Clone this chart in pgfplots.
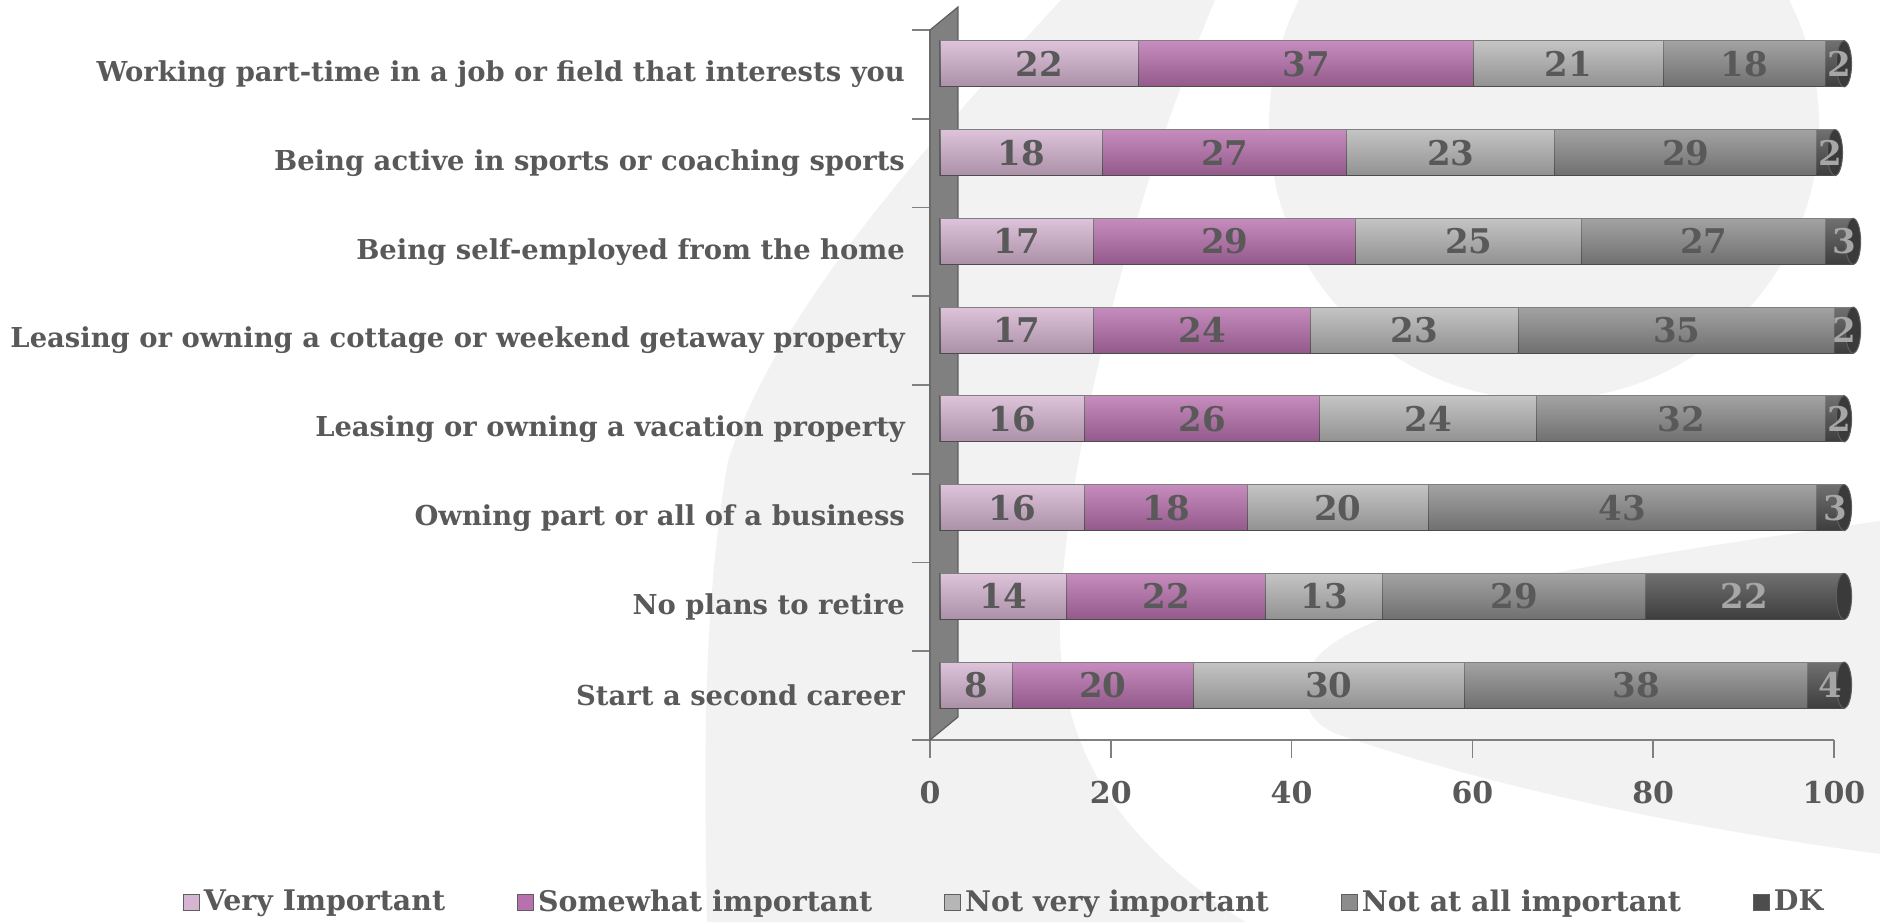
\documentclass[border=0pt]{standalone}
\usepackage{fontspec}
\setmainfont{DejaVu Serif}
\usepackage{pgfplots}
\pgfplotsset{compat=1.18}

\definecolor{txt}{HTML}{595959}
\definecolor{bg}{HTML}{F2F2F2}
\definecolor{axgray}{HTML}{808080}
\definecolor{edge}{HTML}{5F5F5F}
\definecolor{wall}{HTML}{808080}
\definecolor{vi}{HTML}{D6B5D2}
\definecolor{sw}{HTML}{B870AE}
\definecolor{nv}{HTML}{B6B6B6}
\definecolor{na}{HTML}{8C8C8C}
\definecolor{dk}{HTML}{4D4D4D}
\definecolor{dklab}{HTML}{A6A6A6}

\newcommand{\catfont}{\fontsize{13.7}{16}\selectfont\bfseries}
\newcommand{\legfont}{\fontsize{14.2}{16}\selectfont\bfseries}
\newcommand{\valfont}{\fontsize{17}{19}\selectfont\bfseries}
\newcommand{\tickfont}{\fontsize{15}{17}\selectfont\bfseries}

\pgfplotsset{
  base/.style={scale only axis, width=452pt, height=355pt,
    xmin=0, xmax=100, ymin=-0.5, ymax=7.5},
  seg/.style={draw=edge, line width=0.5pt, fill=#1},
  gloss/.style={xbar, bar width=23pt, bar shift=0pt, draw=none,
    top color=white, bottom color=black, fill opacity=0.2, forget plot},
  vals/.style={only marks, mark=none, nodes near coords,
    point meta=explicit symbolic,
    every node near coord/.append style={anchor=center, font=\valfont, text=#1}},
}

\begin{document}
\begin{tikzpicture}
\path[use as bounding box] (0,0) rectangle (940pt,461pt);

% faint logo shapes behind the chart (pixel coordinates of the 1880x922 frame)
\begin{scope}[shift={(0pt,461pt)}, x=0.5pt, y=-0.5pt]
  \fill[bg] (1061,0) .. controls (950,120) and (780,300) .. (728,461)
    .. controls (700,620) and (705,800) .. (707,922) -- (1245,922)
    .. controls (1150,860) and (1065,780) .. (1060,640)
    .. controls (1058,520) and (1110,250) .. (1215,0) -- cycle;
  \fill[bg] (1880,521) .. controls (1600,560) and (1360,600) .. (1315,660)
    .. controls (1295,700) and (1310,725) .. (1340,735)
    .. controls (1500,790) and (1700,830) .. (1880,854) -- cycle;
  \fill[bg] (1544,125) circle [radius=275];
\end{scope}

% frame: ticks, labels, back wall
\begin{axis}[base, at={(465pt,91pt)}, anchor=south west, clip=false,
  axis x line*=bottom, axis y line*=left,
  axis line style={draw=axgray, line width=0.8pt},
  tick align=outside, major tick length=9pt,
  tick style={draw=axgray, line width=0.8pt},
  xtick={0,20,...,100},
  ytick={-0.5,0.5,...,7.5},
  y tick label as interval,
  yticklabels={Start a second career, No plans to retire,
    Owning part or all of a business, Leasing or owning a vacation property,
    Leasing or owning a cottage or weekend getaway property,
    Being self-employed from the home, Being active in sports or coaching sports,
    Working part-time in a job or field that interests you},
  yticklabel style={font=\catfont, text=txt, anchor=east},
  xticklabel style={font=\tickfont, text=txt, yshift=-8pt},
  /pgf/number format/assume math mode=true,
]
\fill[wall, draw=edge, line width=0.6pt] (axis cs:0,-0.5) -- (axis cs:0,7.5)
  -- ([shift={(14pt,11.5pt)}]axis cs:0,7.5) -- ([shift={(14pt,11.5pt)}]axis cs:0,-0.5) -- cycle;
\end{axis}

% stacked bars
\begin{axis}[base, at={(470pt,96.25pt)}, anchor=south west,
  hide axis, clip=false, xbar stacked, bar width=23pt,
  legend columns=5,
  legend image code/.code={\draw[#1] (0pt,-4pt) rectangle (8pt,4pt);},
  legend style={draw=none, fill=none, at={(0.072,-0.243)}, anchor=center,
    font=\legfont, text=txt,
    /tikz/every even column/.append style={column sep=34pt}},
]
\addplot[seg=vi] coordinates {(8,0) (14,1) (16,2) (16,3) (17,4) (17,5) (18,6) (22,7)};
\addplot[seg=sw] coordinates {(20,0) (22,1) (18,2) (26,3) (24,4) (29,5) (27,6) (37,7)};
\addplot[seg=nv] coordinates {(30,0) (13,1) (20,2) (24,3) (23,4) (25,5) (23,6) (21,7)};
\addplot[seg=na] coordinates {(38,0) (29,1) (43,2) (32,3) (35,4) (27,5) (29,6) (18,7)};
\addplot[seg=dk] coordinates {(4,0) (22,1) (3,2) (2,3) (2,4) (3,5) (2,6) (2,7)};
\legend{Very Important, Somewhat important, Not very important, Not at all important, DK}
\end{axis}

% cylinder gloss, bar end caps and value labels
\begin{axis}[base, at={(470pt,96.25pt)}, anchor=south west, hide axis, clip=false]
\addplot[gloss] coordinates {(100,0)};
\addplot[gloss] coordinates {(100,1)};
\addplot[gloss] coordinates {(100,2)};
\addplot[gloss] coordinates {(100,3)};
\addplot[gloss] coordinates {(101,4)};
\addplot[gloss] coordinates {(101,5)};
\addplot[gloss] coordinates {(99,6)};
\addplot[gloss] coordinates {(100,7)};
\addplot[only marks, mark=*, mark size=11.5pt,
  mark options={xscale=0.33, fill=dk!75!black, draw=edge, line width=0.5pt}]
  coordinates {(100,0) (100,1) (100,2) (100,3) (101,4) (101,5) (99,6) (100,7)};
\addplot[vals=txt] coordinates {(4,0)[8] (7,1)[14] (8,2)[16] (8,3)[16] (8.5,4)[17] (8.5,5)[17] (9,6)[18] (11,7)[22]};
\addplot[vals=txt] coordinates {(18,0)[20] (25,1)[22] (25,2)[18] (29,3)[26] (29,4)[24] (31.5,5)[29] (31.5,6)[27] (40.5,7)[37]};
\addplot[vals=txt] coordinates {(43,0)[30] (42.5,1)[13] (44,2)[20] (54,3)[24] (52.5,4)[23] (58.5,5)[25] (56.5,6)[23] (69.5,7)[21]};
\addplot[vals=txt] coordinates {(77,0)[38] (63.5,1)[29] (75.5,2)[43] (82,3)[32] (81.5,4)[35] (84.5,5)[27] (82.5,6)[29] (89,7)[18]};
\addplot[vals=dklab] coordinates {(98.5,0)[4] (89,1)[22] (99,2)[3] (99.5,3)[2] (100,4)[2] (100,5)[3] (98.5,6)[2] (99.5,7)[2]};
\end{axis}
\end{tikzpicture}
\end{document}
